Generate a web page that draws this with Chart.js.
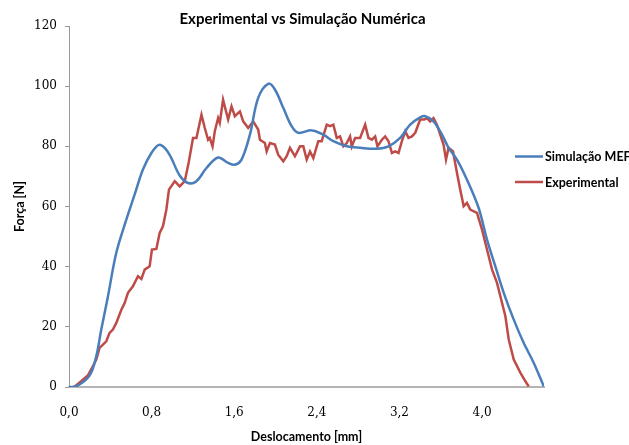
<!DOCTYPE html>
<html>
<head>
<meta charset="utf-8">
<script src="https://cdn.jsdelivr.net/npm/chart.js@4/dist/chart.umd.min.js"></script>
<style>
html,body{margin:0;padding:0;background:#fff;}
canvas{display:block;}
</style>
</head>
<body>
<canvas id="c" width="629" height="445"></canvas>
<script>
const chartTitle = "Experimental vs Simulação Numérica";
const xTitle = "Deslocamento [mm]";
const yTitle = "Força [N]";
const seriesNames = ["Simulação MEF", "Experimental"];

const xTicks = [0, 0.8, 1.6, 2.4, 3.2, 4.0];
const yTicks = [0, 20, 40, 60, 80, 100, 120];

const simX = [0, 0.07, 0.199, 0.264, 0.312, 0.377, 0.458, 0.555, 0.636, 0.716, 0.798, 0.871, 0.927, 0.985, 1.072, 1.153, 1.234, 1.331, 1.444, 1.541, 1.606, 1.671, 1.752, 1.832, 1.929, 1.994, 2.075, 2.156, 2.22, 2.35, 2.463, 2.56, 2.69, 2.819, 2.981, 3.094, 3.207, 3.304, 3.401, 3.45, 3.53, 3.612, 3.676, 3.757, 3.854, 3.967, 4.048, 4.129, 4.21, 4.307, 4.404, 4.501, 4.598];
const simY = [0, 0.2, 3.8, 10.2, 19.0, 30.1, 44.6, 55.6, 64.0, 72.3, 77.8, 80.5, 79.5, 76.5, 70.3, 67.8, 68.4, 72.8, 76.3, 74.5, 73.9, 75.6, 83.9, 96.1, 100.8, 98.9, 92.8, 86.7, 84.5, 85.3, 83.9, 81.7, 80.0, 79.5, 79.2, 80.0, 82.8, 87.2, 89.6, 90.0, 88.3, 83.9, 79.5, 75.6, 68.9, 59.5, 49.0, 40.1, 31.3, 22.4, 14.6, 8.0, 0.2];

const expX = [0.05, 0.118, 0.182, 0.231, 0.264, 0.296, 0.361, 0.393, 0.425, 0.458, 0.507, 0.539, 0.571, 0.619, 0.668, 0.701, 0.733, 0.781, 0.803, 0.846, 0.878, 0.91, 0.943, 0.968, 1.024, 1.072, 1.121, 1.16, 1.201, 1.234, 1.283, 1.315, 1.347, 1.363, 1.39, 1.412, 1.444, 1.46, 1.492, 1.541, 1.574, 1.606, 1.655, 1.687, 1.735, 1.784, 1.832, 1.849, 1.897, 1.914, 1.946, 1.994, 2.026, 2.075, 2.108, 2.14, 2.188, 2.237, 2.269, 2.302, 2.334, 2.366, 2.414, 2.447, 2.496, 2.528, 2.56, 2.593, 2.625, 2.657, 2.69, 2.722, 2.738, 2.771, 2.819, 2.868, 2.9, 2.933, 2.965, 2.987, 3.03, 3.062, 3.094, 3.127, 3.159, 3.191, 3.224, 3.256, 3.288, 3.321, 3.353, 3.401, 3.44, 3.466, 3.498, 3.53, 3.563, 3.595, 3.627, 3.651, 3.676, 3.719, 3.757, 3.789, 3.822, 3.854, 3.886, 3.951, 4.0, 4.048, 4.097, 4.145, 4.178, 4.226, 4.259, 4.307, 4.372, 4.42, 4.452];
const expY = [0, 1.9, 3.8, 6.9, 9.1, 13.0, 15.2, 18.0, 19.1, 21.3, 25.7, 27.9, 31.3, 33.5, 36.8, 35.9, 39.0, 40.1, 45.7, 45.9, 51.2, 53.4, 59.0, 65.6, 68.4, 66.7, 68.4, 74.8, 82.8, 82.8, 90.5, 86.1, 82.2, 82.8, 80.0, 85.0, 89.4, 87.8, 95.5, 88.9, 93.3, 90.0, 91.6, 88.3, 86.1, 88.3, 85.6, 82.2, 81.1, 78.3, 81.1, 80.6, 77.2, 75.0, 76.7, 79.5, 76.7, 80.0, 80.0, 75.6, 78.3, 76.1, 81.7, 81.7, 87.2, 86.7, 87.2, 82.8, 83.3, 80.0, 81.1, 83.3, 80.0, 82.8, 82.8, 87.2, 82.8, 82.2, 83.3, 80.0, 82.2, 83.3, 81.7, 77.8, 78.3, 77.8, 81.7, 85.0, 82.8, 83.3, 84.5, 88.9, 88.9, 89.4, 88.3, 89.4, 87.2, 83.9, 80.6, 75.6, 79.5, 78.3, 71.2, 65.6, 60.1, 61.2, 59.0, 57.9, 52.3, 45.7, 39.0, 34.6, 30.1, 23.5, 15.7, 9.1, 4.7, 1.9, 0.2];

const colors = ["#4a7ebb", "#be4b48"];

const toPts = (xs, ys) => xs.map((x, i) => ({x: x, y: ys[i]}));
const fmtComma = v => Number(v).toFixed(1).replace('.', ',');

const overlay = {
  id: 'overlay',
  afterDraw(chart) {
    const ctx = chart.ctx;
    ctx.save();
    ctx.fillStyle = '#000';
    ctx.font = 'bold 15px Lato';
    ctx.textAlign = 'center';
    ctx.textBaseline = 'alphabetic';
    ctx.fillText(chartTitle, 302.5, 23.5);
    // legend
    const ys = [156.5, 182];
    ctx.font = 'bold 12.5px Lato';
    ctx.textAlign = 'left';
    ctx.textBaseline = 'middle';
    chart.data.datasets.forEach((ds, i) => {
      ctx.strokeStyle = ds.borderColor;
      ctx.lineWidth = 2.5;
      ctx.beginPath();
      ctx.moveTo(515, ys[i]);
      ctx.lineTo(543, ys[i]);
      ctx.stroke();
      ctx.fillStyle = '#000';
      ctx.fillText(ds.label, 545, ys[i] + 0.5);
    });
    ctx.restore();
  }
};

new Chart(document.getElementById('c'), {
  type: 'line',
  data: {
    datasets: [
      {label: seriesNames[0], data: toPts(simX, simY), borderColor: colors[0], backgroundColor: colors[0], borderWidth: 2.5, pointRadius: 0, tension: 0.35, fill: false},
      {label: seriesNames[1], data: toPts(expX, expY), borderColor: colors[1], backgroundColor: colors[1], borderWidth: 2.5, pointRadius: 0, tension: 0, fill: false}
    ]
  },
  options: {
    responsive: false,
    animation: false,
    devicePixelRatio: 1,
    layout: {padding: {left: 0, right: 85, top: 26, bottom: 0}},
    plugins: {legend: {display: false}, title: {display: false}, tooltip: {enabled: false}},
    scales: {
      x: {
        type: 'linear', min: 0, max: 4.6,
        afterBuildTicks: s => { s.ticks = xTicks.map(v => ({value: v})); },
        afterFit: s => { s.height = 58; },
        grid: {display: false},
        border: {display: true, color: '#b4b4b4', width: 2},
        ticks: {padding: 11, color: '#000', font: {family: 'DejaVu Serif', size: 12}, callback: v => fmtComma(v), maxRotation: 0, autoSkip: false},
        title: {display: true, text: xTitle, color: '#000', font: {family: 'Lato', size: 12.5, weight: 'bold'}, padding: {top: 0, bottom: 1}}
      },
      y: {
        type: 'linear', min: 0, max: 120,
        afterBuildTicks: s => { s.ticks = yTicks.map(v => ({value: v})); },
        afterFit: s => { s.width = 69; },
        grid: {display: true, drawOnChartArea: false, drawTicks: true, tickLength: 4, color: '#9a9a9a'},
        border: {display: true, color: '#9a9a9a', width: 1},
        ticks: {padding: 8, color: '#000', font: {family: 'DejaVu Serif', size: 12}},
        title: {display: true, text: yTitle, color: '#000', font: {family: 'Lato', size: 12.5, weight: 'bold'}, padding: {top: 12, bottom: 0}}
      }
    }
  },
  plugins: [overlay]
});
</script>
</body>
</html>
